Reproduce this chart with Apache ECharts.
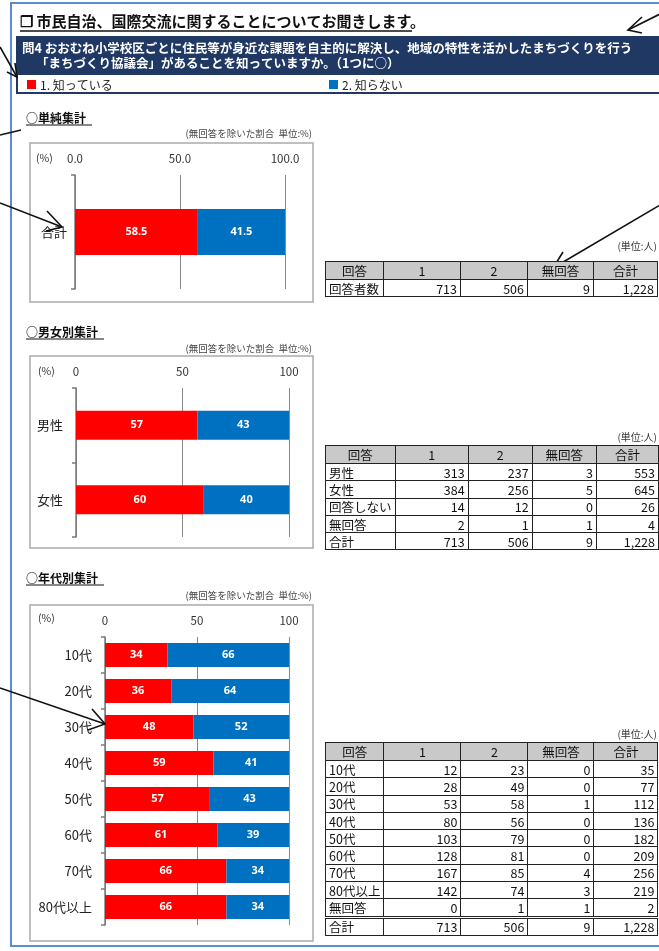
<!DOCTYPE html>
<html>
<head>
<meta charset="utf-8">
<script src="https://cdn.jsdelivr.net/npm/echarts@6/dist/echarts.min.js"></script>
<style>
  html, body { margin:0; padding:0; background:#fff; }
  #wrap { position:relative; width:659px; height:951px; overflow:hidden; }
  #chart { position:absolute; left:0; top:0; width:659px; height:951px; }
  .tbl { position:absolute; left:325px; border-collapse:collapse; font-family:"Noto Sans CJK JP","Noto Sans",sans-serif; font-size:12.5px; color:#111; table-layout:fixed; }
  .tbl td, .tbl th { border:1px solid #222; padding:0 3px; line-height:15px; height:16.3px; white-space:nowrap; overflow:hidden; }
  .tbl th { background:#c9c9c9; font-weight:normal; text-align:center; height:17px; }
  .tbl td.num { text-align:right; }
  .tbl td.lab { text-align:left; }
  .tbl tr.total td { border-top:3px double #222; }
  .unit { position:absolute; right:2px; font-family:"Noto Sans CJK JP",sans-serif; font-size:10px; color:#333; }
</style>
</head>
<body>
<div id="wrap">
  <div id="chart"></div>
</div>
<script>
// ---- data ----
const catTotal = ['合計'];
const totalKnow = [58.5];
const totalNot = [41.5];

const catGender = ['男性', '女性'];
const genderKnow = [57, 60];
const genderNot = [43, 40];

const catAge = ['10代', '20代', '30代', '40代', '50代', '60代', '70代', '80代以上'];
const ageKnow = [34, 36, 48, 59, 57, 61, 66, 66];
const ageNot = [66, 64, 52, 41, 43, 39, 34, 34];

const tableHeader = ['回答', '1', '2', '無回答', '合計'];
const table1Rows = [['回答者数', 713, 506, 9, 1228]];
const table2Rows = [
  ['男性', 313, 237, 3, 553],
  ['女性', 384, 256, 5, 645],
  ['回答しない', 14, 12, 0, 26],
  ['無回答', 2, 1, 1, 4],
  ['合計', 713, 506, 9, 1228]
];
const table3Rows = [
  ['10代', 12, 23, 0, 35],
  ['20代', 28, 49, 0, 77],
  ['30代', 53, 58, 1, 112],
  ['40代', 80, 56, 0, 136],
  ['50代', 103, 79, 0, 182],
  ['60代', 128, 81, 0, 209],
  ['70代', 167, 85, 4, 256],
  ['80代以上', 142, 74, 3, 219],
  ['無回答', 0, 1, 1, 2],
  ['合計', 713, 506, 9, 1228]
];
const valueTicks1 = ['0.0', '50.0', '100.0'];

// ---- tables (HTML) ----
const colW = [58, 77, 67, 66, 64];
function buildTable(rows, top, unitTop, doubleTotal) {
  const wrap = document.getElementById('wrap');
  const u = document.createElement('div');
  u.className = 'unit'; u.style.top = unitTop + 'px'; u.textContent = '(単位:人)';
  wrap.appendChild(u);
  const t = document.createElement('table');
  t.className = 'tbl'; t.style.top = top + 'px';
  const cg = document.createElement('colgroup');
  colW.forEach(w => { const c = document.createElement('col'); c.style.width = w + 'px'; cg.appendChild(c); });
  t.appendChild(cg);
  const hr = document.createElement('tr');
  tableHeader.forEach(h => { const th = document.createElement('th'); th.textContent = h; hr.appendChild(th); });
  t.appendChild(hr);
  rows.forEach((r, i) => {
    const tr = document.createElement('tr');
    if (doubleTotal && r[0] === '合計') tr.className = 'total';
    r.forEach((v, j) => {
      const td = document.createElement('td');
      if (j === 0) { td.className = 'lab'; td.textContent = v; }
      else { td.className = 'num'; td.textContent = v.toLocaleString('en-US'); }
      tr.appendChild(td);
    });
    t.appendChild(tr);
  });
  wrap.appendChild(t);
}
buildTable(table1Rows, 261, 238, false);
buildTable(table2Rows, 445, 429, false);
buildTable(table3Rows, 742, 726, true);

// ---- chart ----
const chart = echarts.init(document.getElementById('chart'), null, { renderer: 'canvas' });
const RED = '#ff0000', BLUE = '#0070c0';
const FONT = '"Noto Sans CJK JP","Noto Sans",sans-serif';

function xAx(gi, fmt) {
  return {
    type: 'value', gridIndex: gi, min: 0, max: 100, interval: 50, position: 'top',
    axisLine: { show: false }, axisTick: { show: false },
    axisLabel: { margin: 11, fontSize: 11.5, color: '#333', fontFamily: FONT, formatter: fmt },
    splitLine: { show: true, lineStyle: { color: '#8a8a8a', width: 1 } }
  };
}
function yAx(gi, cats, margin) {
  return {
    type: 'category', gridIndex: gi, data: cats, inverse: true,
    axisLine: { show: true, lineStyle: { color: '#7a7a7a', width: 1.5 } },
    axisTick: { show: true, length: 4, lineStyle: { color: '#7a7a7a', width: 1.5 } },
    axisLabel: { margin: margin, fontSize: 13, color: '#222', fontFamily: FONT }
  };
}
function ser(gi, name, data, color, bw, dec) {
  return {
    type: 'bar', name: name, stack: 's' + gi, xAxisIndex: gi, yAxisIndex: gi,
    data: data, barWidth: bw, itemStyle: { color: color },
    label: { show: true, position: 'inside', color: '#fff', fontWeight: 'bold', fontSize: 11, fontFamily: '"Noto Sans",sans-serif',
      formatter: p => dec ? p.value.toFixed(1) : String(p.value) },
    emphasis: { disabled: true }, animation: false
  };
}

function txt(x, y, s, opt) {
  return Object.assign({ type: 'text', x: x, y: y, z: 50,
    style: Object.assign({ text: s, fill: '#111', font: '12px ' + FONT, textVerticalAlign: 'middle' }, opt || {}) });
}
function arrow(pts) {
  return { type: 'polyline', z: 100, shape: { points: pts }, style: { stroke: '#111', lineWidth: 1.6, fill: null } };
}

const graphics = [
  // page frame
  { type: 'rect', z: 1, shape: { x: 11, y: 3, width: 700, height: 943 }, style: { fill: null, stroke: '#5b8bd6', lineWidth: 2 } },
  // title
  txt(20, 21, '❐ 市民自治、国際交流に関することについてお聞きします。', { font: 'bold 15px ' + FONT }),
  { type: 'line', z: 50, shape: { x1: 20, y1: 31, x2: 412, y2: 31 }, style: { stroke: '#111', lineWidth: 1.5 } },
  // question box
  { type: 'rect', z: 10, shape: { x: 17, y: 37, width: 700, height: 56 }, style: { fill: '#fff', stroke: '#1f3864', lineWidth: 2 } },
  { type: 'rect', z: 11, shape: { x: 17, y: 37, width: 700, height: 38 }, style: { fill: '#1f3864' } },
  txt(22, 48, '問4 おおむね小学校区ごとに住民等が身近な課題を自主的に解決し、地域の特性を活かしたまちづくりを行う', { fill: '#fff', font: 'bold 12.5px ' + FONT }),
  txt(36, 63, '「まちづくり協議会」があることを知っていますか。（1つに○）', { fill: '#fff', font: 'bold 12.5px ' + FONT }),
  { type: 'rect', z: 50, shape: { x: 27, y: 80, width: 9, height: 9 }, style: { fill: RED } },
  txt(40, 85, '1. 知っている', { font: '12px ' + FONT, fill: '#222' }),
  { type: 'rect', z: 50, shape: { x: 329, y: 80, width: 9, height: 9 }, style: { fill: BLUE } },
  txt(342, 85, '2. 知らない', { font: '12px ' + FONT, fill: '#222' }),
  // section 1
  txt(26, 118, '○単純集計', { font: 'bold 12px ' + FONT }),
  { type: 'line', z: 50, shape: { x1: 26, y1: 125, x2: 92, y2: 125 }, style: { stroke: '#111', lineWidth: 1 } },
  txt(312, 133, '(無回答を除いた割合  単位:%)', { font: '9.5px ' + FONT, fill: '#444', textAlign: 'right' }),
  { type: 'rect', z: 2, shape: { x: 30, y: 143, width: 283, height: 159 }, style: { fill: null, stroke: '#aaaaaa', lineWidth: 1.5 } },
  txt(36, 158, '(%)', { font: '10.5px ' + FONT, fill: '#333' }),
  // section 2
  txt(26, 332, '○男女別集計', { font: 'bold 12px ' + FONT }),
  { type: 'line', z: 50, shape: { x1: 26, y1: 339, x2: 104, y2: 339 }, style: { stroke: '#111', lineWidth: 1 } },
  txt(312, 348, '(無回答を除いた割合  単位:%)', { font: '9.5px ' + FONT, fill: '#444', textAlign: 'right' }),
  { type: 'rect', z: 2, shape: { x: 30, y: 356, width: 283, height: 192 }, style: { fill: null, stroke: '#aaaaaa', lineWidth: 1.5 } },
  txt(38, 371, '(%)', { font: '10.5px ' + FONT, fill: '#333' }),
  // section 3
  txt(26, 578, '○年代別集計', { font: 'bold 12px ' + FONT }),
  { type: 'line', z: 50, shape: { x1: 26, y1: 585, x2: 104, y2: 585 }, style: { stroke: '#111', lineWidth: 1 } },
  txt(312, 595, '(無回答を除いた割合  単位:%)', { font: '9.5px ' + FONT, fill: '#444', textAlign: 'right' }),
  { type: 'rect', z: 2, shape: { x: 30, y: 605, width: 283, height: 336 }, style: { fill: null, stroke: '#aaaaaa', lineWidth: 1.5 } },
  txt(38, 618, '(%)', { font: '10.5px ' + FONT, fill: '#333' }),
  // hand-drawn annotation arrows
  arrow([[660, 14], [628, 30]]), arrow([[642, 17], [628, 30], [642, 33]]),
  arrow([[0, 47], [17, 77]]), arrow([[15, 63], [17, 77], [7, 72]]),
  arrow([[0, 135], [21, 130]]),
  arrow([[0, 203], [62, 227]]), arrow([[47, 211], [62, 227], [46, 231]]),
  arrow([[660, 205], [553, 268]]), arrow([[563, 252], [553, 268], [573, 269]]),
  arrow([[0, 688], [105, 724]]), arrow([[92, 709], [105, 724], [88, 730]])
];

chart.setOption({
  animation: false,
  textStyle: { fontFamily: FONT },
  grid: [
    { left: 75, top: 175, width: 210, height: 114, containLabel: false },
    { left: 76, top: 388, width: 213, height: 149, containLabel: false },
    { left: 105, top: 637, width: 184, height: 288, containLabel: false }
  ],
  xAxis: [
    xAx(0, v => (v === 0 ? valueTicks1[0] : v === 50 ? valueTicks1[1] : valueTicks1[2])),
    xAx(1, v => String(v)),
    xAx(2, v => String(v))
  ],
  yAxis: [yAx(0, catTotal, 8), yAx(1, catGender, 13), yAx(2, catAge, 13)],
  series: [
    ser(0, '1. 知っている', totalKnow, RED, 46, true),
    ser(0, '2. 知らない', totalNot, BLUE, 46, true),
    ser(1, '1. 知っている', genderKnow, RED, 29, false),
    ser(1, '2. 知らない', genderNot, BLUE, 29, false),
    ser(2, '1. 知っている', ageKnow, RED, 24, false),
    ser(2, '2. 知らない', ageNot, BLUE, 24, false)
  ],
  graphic: graphics
});
</script>
</body>
</html>
